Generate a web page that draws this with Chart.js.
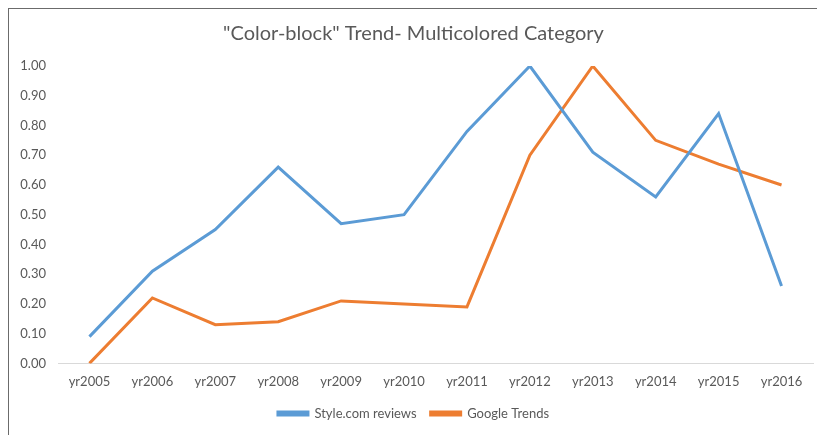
<!DOCTYPE html>
<html>
<head>
<meta charset="utf-8">
<script src="https://cdn.jsdelivr.net/npm/chart.js@4"></script>
<style>
  html, body { margin: 0; padding: 0; background: #fff; }
  #wrap { position: relative; width: 817px; height: 435px; overflow: hidden; }
  #frame { position: absolute; left: 8px; top: 8px; width: 900px; height: 500px;
           border-left: 1px solid #6b6b6b; border-top: 1px solid #6b6b6b; }
  canvas { position: absolute; left: 0; top: 0; }
</style>
</head>
<body>
<div id="wrap">
  <div id="frame"></div>
  <canvas id="grafica" width="817" height="435"></canvas>
</div>
<script>
const years = ['yr2005', 'yr2006', 'yr2007', 'yr2008', 'yr2009', 'yr2010',
               'yr2011', 'yr2012', 'yr2013', 'yr2014', 'yr2015', 'yr2016'];
const styleReviews = [0.09, 0.31, 0.45, 0.66, 0.47, 0.50, 0.78, 1.00, 0.71, 0.56, 0.84, 0.26];
const googleTrends = [0.00, 0.22, 0.13, 0.14, 0.21, 0.20, 0.19, 0.70, 1.00, 0.75, 0.67, 0.60];

const gris = '#595959'; // texto
const fuente = 'Lato, "Open Sans", sans-serif';

const ctx = document.getElementById('grafica').getContext('2d');

new Chart(ctx, {
  type: 'line',
  data: {
    labels: years,
    datasets: [
      {
        label: 'Style.com reviews',
        data: styleReviews,
        borderColor: '#5b9bd5', // Azul
        backgroundColor: '#5b9bd5',
        borderWidth: 3,
        tension: 0,
        pointRadius: 0,
      },
      {
        label: 'Google Trends',
        data: googleTrends,
        borderColor: '#ed7d31', // Naranja
        backgroundColor: '#ed7d31',
        borderWidth: 3,
        tension: 0,
        pointRadius: 0,
      },
    ],
  },
  options: {
    responsive: false,
    animation: false,
    layout: {
      padding: { left: 14, right: 4, top: 18, bottom: 5 },
    },
    plugins: {
      title: {
        display: true,
        text: '"Color-block" Trend- Multicolored Category',
        color: gris,
        font: { family: fuente, size: 20, weight: 'normal' },
        padding: { top: 4, bottom: 20 },
      },
      legend: {
        display: true,
        position: 'bottom',
        labels: {
          color: gris,
          boxWidth: 30,
          boxHeight: 3,
          padding: 14,
          font: { family: fuente, size: 13 },
        },
      },
      tooltip: { enabled: false },
    },
    scales: {
      x: {
        offset: true,
        grid: { display: false, offset: true },
        border: { display: true, color: '#d9d9d9', width: 1 },
        ticks: {
          color: gris,
          padding: 3,
          maxRotation: 0,
          font: { family: fuente, size: 13 },
        },
      },
      y: {
        min: 0,
        max: 1,
        grid: { display: false, drawTicks: false },
        border: { display: false },
        afterFit: (scale) => { scale.width = 44; },
        ticks: {
          stepSize: 0.1,
          color: gris,
          padding: 12,
          font: { family: fuente, size: 13 },
          callback: (v) => v.toFixed(2),
        },
      },
    },
  },
});
</script>
</body>
</html>
